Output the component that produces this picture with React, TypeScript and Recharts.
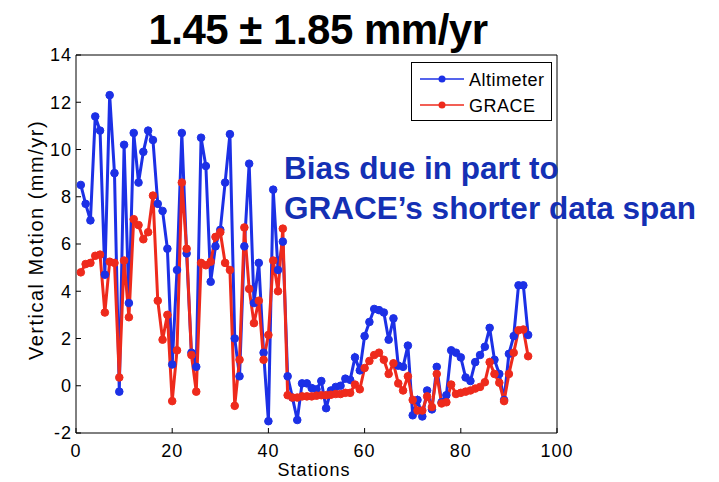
import { LineChart, Line, XAxis, YAxis, Legend } from "recharts";

// Station numbers (x)
const stations = [
	1, 2, 3, 4, 5, 6, 7, 8, 9, 10, 11, 12, 13, 14, 15, 16, 17, 18, 19, 20,
	21, 22, 23, 24, 25, 26, 27, 28, 29, 30, 31, 32, 33, 34, 35, 36, 37, 38, 39, 40,
	41, 42, 43, 44, 45, 46, 47, 48, 49, 50, 51, 52, 53, 54, 55, 56, 57, 58, 59, 60,
	61, 62, 63, 64, 65, 66, 67, 68, 69, 70, 71, 72, 73, 74, 75, 76, 77, 78, 79, 80,
	81, 82, 83, 84, 85, 86, 87, 88, 89, 90, 91, 92, 93, 94,
];

// Vertical motion, mm/yr
const altimeter = [
	8.5, 7.7, 7.0, 11.4, 10.8, 4.7, 12.3, 9.0, -0.25, 10.2,
	3.5, 10.7, 8.6, 9.9, 10.8, 10.4, 7.7, 7.4, 5.8, 0.9,
	4.9, 10.7, 5.6, 1.4, 0.8, 10.5, 9.3, 4.4, 5.9, 6.6,
	8.6, 10.65, 2.0, 0.4, 5.9, 9.4, 3.5, 5.2, 1.4, -1.5,
	8.3, 4.9, 6.1, 0.4, -0.5, -1.45, 0.1, 0.1, -0.1, -0.15,
	0.2, -0.95, -0.2, -0.05, 0.0, 0.3, 0.25, 1.2, 0.65, 2.1,
	2.7, 3.25, 3.2, 3.1, 1.95, 2.85, 0.85, 0.8, 1.7, -1.25,
	-0.6, -1.3, -0.2, -1.0, 0.8, -0.7, -0.4, 1.5, 1.4, 1.2,
	0.35, 0.2, 1.0, 1.3, 1.65, 2.45, 1.1, 0.5, -0.6, 1.35,
	2.1, 4.25, 4.25, 2.15,
];

const grace = [
	4.8, 5.15, 5.2, 5.5, 5.55, 3.1, 5.25, 5.2, 0.35, 5.3,
	2.9, 7.05, 6.8, 6.2, 6.5, 8.05, 3.6, 1.95, 3.0, -0.65,
	1.5, 8.6, 5.8, 1.3, -0.25, 5.2, 5.1, 5.25, 6.3, 6.5,
	5.2, 4.9, -0.85, 1.1, 6.7, 4.1, 2.65, 3.6, 1.1, 2.15,
	5.3, 4.0, 6.65, -0.4, -0.5, -0.5, -0.45, -0.45, -0.45, -0.42,
	-0.4, -0.4, -0.38, -0.35, -0.35, -0.3, -0.3, 0.05, -0.15, 0.75,
	1.05, 1.3, 1.4, 1.1, 0.5, 0.95, 0.1, -0.2, 0.4, -0.6,
	-1.05, -1.05, -0.45, -0.9, 0.5, -0.75, -0.7, 0.05, -0.35, -0.3,
	-0.25, -0.2, -0.12, -0.05, 0.15, 1.0, 0.5, 0.13, -0.65, 0.5,
	1.4, 2.35, 2.38, 1.25,
];

const xTicks = [0, 20, 40, 60, 80, 100];
const yTicks = [-2, 0, 2, 4, 6, 8, 10, 12, 14];

const title = "1.45 ± 1.85 mm/yr";
const note = ["Bias due in part to", "GRACE’s shorter data span"];

const BLUE = "#1c30e6";
const RED = "#ee2a1c";
const FONT = "'Liberation Sans', Arial, Helvetica, sans-serif";

const data = stations.map((s, i) => ({
	station: s,
	altimeter: altimeter[i],
	grace: grace[i],
}));

// Boxed legend in the top right corner, matlab style
const LegendBox = (props: any) => {
	const payload = props.payload || [];
	return (
		<svg width={141} height={59} style={{ display: "block" }}>
			<rect x={0.5} y={0.5} width={140} height={58} fill="#fff" stroke="#000" />
			{payload.map((p: any, i: number) => {
				const y = 17 + i * 26;
				return (
					<g key={p.value}>
						<line x1={9} x2={53} y1={y} y2={y} stroke={p.color} strokeWidth={1.5} />
						<circle cx={31} cy={y} r={3.5} fill={p.color} />
						<text x={58} y={y + 7} fontSize={18} letterSpacing={0.5} fontFamily={FONT} fill="#000">
							{p.value}
						</text>
					</g>
				);
			})}
		</svg>
	);
};

const App = () => {
	const tickStyle = { fill: "#000", fontSize: 18, fontFamily: FONT, letterSpacing: 1 };

	return (
		<div
			style={{
				position: "absolute",
				left: 0,
				top: 0,
				width: 719,
				height: 482,
				background: "#fff",
				fontFamily: FONT,
			}}
		>
			<LineChart
				width={719}
				height={482}
				data={data}
				margin={{ top: 54, right: 161, bottom: 19, left: 16 }}
			>
				<XAxis
					dataKey="station"
					type="number"
					domain={[0, 100]}
					ticks={xTicks}
					interval={0}
					height={30}
					tickSize={-5}
					tickMargin={16}
					stroke="#000"
					tick={tickStyle}
				/>
				<XAxis
					xAxisId="top"
					orientation="top"
					type="number"
					domain={[0, 100]}
					ticks={xTicks}
					interval={0}
					height={1}
					tickSize={-5}
					tick={false}
					stroke="#000"
				/>
				<YAxis
					type="number"
					domain={[-2, 14]}
					ticks={yTicks}
					interval={0}
					width={60}
					tickSize={-5}
					tickMargin={9}
					stroke="#000"
					tick={tickStyle}
				/>
				<YAxis
					yAxisId="right"
					orientation="right"
					type="number"
					domain={[-2, 14]}
					ticks={yTicks}
					interval={0}
					width={1}
					tickSize={-5}
					tick={false}
					stroke="#000"
				/>
				<Line
					dataKey="altimeter"
					name="Altimeter"
					stroke={BLUE}
					strokeWidth={3}
					dot={{ r: 3.8, fill: BLUE, stroke: BLUE, strokeWidth: 1 }}
					isAnimationActive={false}
				/>
				<Line
					dataKey="grace"
					name="GRACE"
					stroke={RED}
					strokeWidth={3}
					dot={{ r: 3.8, fill: RED, stroke: RED, strokeWidth: 1 }}
					isAnimationActive={false}
				/>
				<Legend
					layout="vertical"
					align="center"
					verticalAlign="middle"
					content={LegendBox}
					wrapperStyle={{ left: 411, top: 62, width: 141, height: 59 }}
				/>
			</LineChart>

			{/* title */}
			<div
				style={{
					position: "absolute",
					left: 0,
					top: 9,
					width: 636,
					textAlign: "center",
					fontSize: 42,
					lineHeight: "42px",
					fontWeight: "bold",
					letterSpacing: -0.5,
					whiteSpace: "nowrap",
				}}
			>
				{title}
			</div>

			{/* annotation */}
			<div
				style={{
					position: "absolute",
					left: 284,
					top: 148,
					fontSize: 31.5,
					lineHeight: "40px",
					fontWeight: "bold",
					color: "#1430b4",
					whiteSpace: "nowrap",
				}}
			>
				{note.map((l) => (
					<div key={l}>{l}</div>
				))}
			</div>

			{/* axis titles */}
			<div
				style={{
					position: "absolute",
					left: 314,
					top: 461,
					transform: "translateX(-50%)",
					fontSize: 18,
					lineHeight: "18px",
					letterSpacing: 1,
					whiteSpace: "nowrap",
				}}
			>
				Stations
			</div>
			<div
				style={{
					position: "absolute",
					left: 36,
					top: 240,
					transform: "translate(-50%, -50%) rotate(-90deg)",
					fontSize: 20,
					lineHeight: "20px",
					letterSpacing: 1.5,
					whiteSpace: "nowrap",
				}}
			>
				Vertical Motion (mm/yr)
			</div>
		</div>
	);
};

export default App;
